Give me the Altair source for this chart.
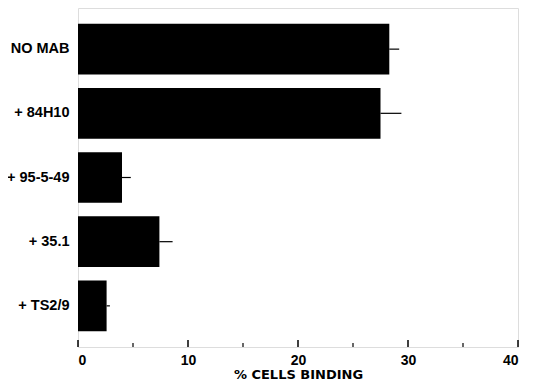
import altair as alt
import pandas as pd

categories = ["NO MAB", "+ 84H10", "+ 95-5-49", "+ 35.1", "+ TS2/9"]
values = [28.3, 27.5, 4.0, 7.4, 2.6]
err_hi = [29.2, 29.4, 4.8, 8.6, 2.9]
major_ticks = [0, 10, 20, 30, 40]
minor_ticks = [5, 15, 25, 35]

df = pd.DataFrame({"cat": categories, "val": values, "hi": err_hi})
tdf = pd.DataFrame({"t": major_ticks})
mdf = pd.DataFrame({"t": minor_ticks})

W, H = 440, 339
FONT = "Liberation Sans"

xscale = alt.Scale(domain=[0, 40], nice=False)
yscale = alt.Scale(paddingInner=0.21, paddingOuter=0.246)

bars = alt.Chart(df).mark_bar(color="black").encode(
    x=alt.X("val:Q", scale=xscale,
            axis=alt.Axis(values=major_ticks, title="% CELLS BINDING", domain=False,
                          ticks=False, grid=False, labelFont=FONT, labelFontSize=14,
                          labelFontWeight="bold", labelColor="black", labelPadding=6,
                          titleFont="DejaVu Sans", titleFontSize=13, titleFontWeight="bold",
                          titleColor="black", titlePadding=1)),
    y=alt.Y("cat:N", sort=categories, scale=yscale,
            axis=alt.Axis(title=None, domain=False, ticks=False, labelFont=FONT,
                          labelFontSize=14.5, labelFontWeight="bold", labelColor="black",
                          labelPadding=9)),
)

errs = alt.Chart(df).mark_rule(color="black", strokeWidth=1.2).encode(
    x=alt.X("val:Q", scale=xscale),
    x2="hi:Q",
    y=alt.Y("cat:N", sort=categories, scale=yscale, bandPosition=0.5),
)

majors = alt.Chart(tdf).mark_rule(color="black", strokeWidth=1.5).encode(
    x=alt.X("t:Q", scale=xscale),
    y=alt.value(H),
    y2=alt.value(H - 7),
)
minors = alt.Chart(mdf).mark_rule(color="black", strokeWidth=1.2).encode(
    x=alt.X("t:Q", scale=xscale),
    y=alt.value(H),
    y2=alt.value(H - 4),
)

chart = alt.layer(bars, errs, majors, minors).properties(
    width=W, height=H,
    autosize=alt.AutoSizeParams(type="none"),
    padding={"left": 70, "top": 0, "right": 9, "bottom": 36},
).configure_view(stroke="black", strokeWidth=1.5).configure(background="white")

chart.save("out.html", embed_options={"renderer": "svg", "actions": False})
